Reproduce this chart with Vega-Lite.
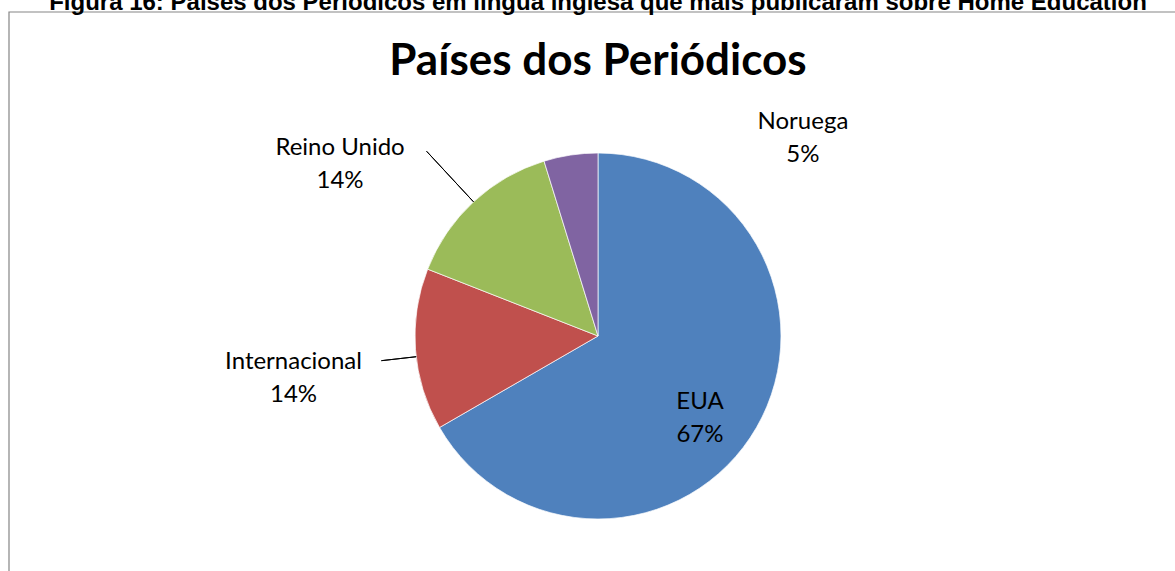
{
  "$schema": "https://vega.github.io/schema/vega-lite/v6.json",
  "autosize": {"type": "none"},
  "padding": {"left": 9, "top": 12, "right": -12, "bottom": -89},
  "width": 1178,
  "height": 648,
  "background": "white",
  "title": {
    "text": "Figura 16: Países dos Periódicos em língua inglesa que mais publicaram sobre Home Education",
    "subtitle": "Países dos Periódicos",
    "anchor": "middle",
    "frame": "group",
    "font": "Liberation Sans",
    "fontSize": 24,
    "fontWeight": "bold",
    "color": "#000000",
    "subtitleFont": "Lato",
    "subtitleFontSize": 44,
    "subtitleFontWeight": "bold",
    "subtitleColor": "#000000",
    "subtitlePadding": 25,
    "offset": -73
  },
  "data": {
    "values": [
      {"pais": "EUA", "n": 14, "rotulo": "EUA\n67%", "ord": 1},
      {"pais": "Internacional", "n": 3, "rotulo": "Internacional\n14%", "ord": 2},
      {"pais": "Reino Unido", "n": 3, "rotulo": "Reino Unido\n14%", "ord": 3},
      {"pais": "Noruega", "n": 1, "rotulo": "Noruega\n5%", "ord": 4}
    ]
  },
  "layer": [
    {
      "data": {"values": [{"moldura": "grafico"}]},
      "mark": {"type": "rect", "fillOpacity": 0, "stroke": "#858585", "strokeWidth": 1.2},
      "encoding": {}
    },
    {
      "mark": {"type": "arc", "radius": 183, "stroke": "#ffffff", "strokeWidth": 0.7},
      "encoding": {
        "theta": {"field": "n", "type": "quantitative", "stack": true},
        "order": {"field": "ord", "type": "quantitative"},
        "color": {
          "field": "pais",
          "type": "nominal",
          "scale": {"domain": ["EUA", "Internacional", "Reino Unido", "Noruega"], "range": ["#4F81BD", "#C0504D", "#9BBB59", "#8064A2"]},
          "legend": null
        }
      }
    },
    {
      "transform": [
        {"stack": "n", "groupby": [], "sort": [{"field": "ord"}], "as": ["s0", "s1"]},
        {"filter": "datum.pais === 'Reino Unido'"}
      ],
      "mark": {"type": "arc", "radius": 252, "radius2": 183, "thetaOffset": 0.4488, "theta2Offset": -0.4488, "fillOpacity": 0, "stroke": "#000000", "strokeWidth": 1},
      "encoding": {
        "theta": {"field": "s0", "type": "quantitative"},
        "theta2": {"field": "s1"}
      }
    },
    {
      "transform": [
        {"stack": "n", "groupby": [], "sort": [{"field": "ord"}], "as": ["s0", "s1"]},
        {"filter": "datum.pais === 'Internacional'"}
      ],
      "mark": {"type": "arc", "radius": 218, "radius2": 183, "thetaOffset": 0.4102, "theta2Offset": -0.4875, "fillOpacity": 0, "stroke": "#000000", "strokeWidth": 1},
      "encoding": {
        "theta": {"field": "s0", "type": "quantitative"},
        "theta2": {"field": "s1"}
      }
    },
    {
      "mark": {"type": "text", "radius": 130, "dx": -10.6, "dy": 1, "font": "Lato", "fontSize": 24, "lineBreak": "\n", "lineHeight": 33, "align": "center", "baseline": "middle", "color": "#000000"},
      "encoding": {
        "theta": {"field": "n", "type": "quantitative", "stack": true},
        "order": {"field": "ord", "type": "quantitative"},
        "detail": {"field": "pais", "type": "nominal"},
        "text": {"condition": {"test": "datum.pais === 'EUA'", "field": "rotulo", "type": "nominal"}, "value": ""}
      }
    },
    {
      "mark": {"type": "text", "radius": 300, "dx": -5.3, "dy": 3.6, "font": "Lato", "fontSize": 24, "lineBreak": "\n", "lineHeight": 33, "align": "center", "baseline": "middle", "color": "#000000"},
      "encoding": {
        "theta": {"field": "n", "type": "quantitative", "stack": true},
        "order": {"field": "ord", "type": "quantitative"},
        "detail": {"field": "pais", "type": "nominal"},
        "text": {"condition": {"test": "datum.pais === 'Internacional'", "field": "rotulo", "type": "nominal"}, "value": ""}
      }
    },
    {
      "mark": {"type": "text", "radius": 300, "dx": -53.9, "dy": 31.9, "font": "Lato", "fontSize": 24, "lineBreak": "\n", "lineHeight": 33, "align": "center", "baseline": "middle", "color": "#000000"},
      "encoding": {
        "theta": {"field": "n", "type": "quantitative", "stack": true},
        "order": {"field": "ord", "type": "quantitative"},
        "detail": {"field": "pais", "type": "nominal"},
        "text": {"condition": {"test": "datum.pais === 'Reino Unido'", "field": "rotulo", "type": "nominal"}, "value": ""}
      }
    },
    {
      "mark": {"type": "text", "radius": 250, "dx": 242.2, "dy": 33.2, "font": "Lato", "fontSize": 24, "lineBreak": "\n", "lineHeight": 33, "align": "center", "baseline": "middle", "color": "#000000"},
      "encoding": {
        "theta": {"field": "n", "type": "quantitative", "stack": true},
        "order": {"field": "ord", "type": "quantitative"},
        "detail": {"field": "pais", "type": "nominal"},
        "text": {"condition": {"test": "datum.pais === 'Noruega'", "field": "rotulo", "type": "nominal"}, "value": ""}
      }
    }
  ]
}
